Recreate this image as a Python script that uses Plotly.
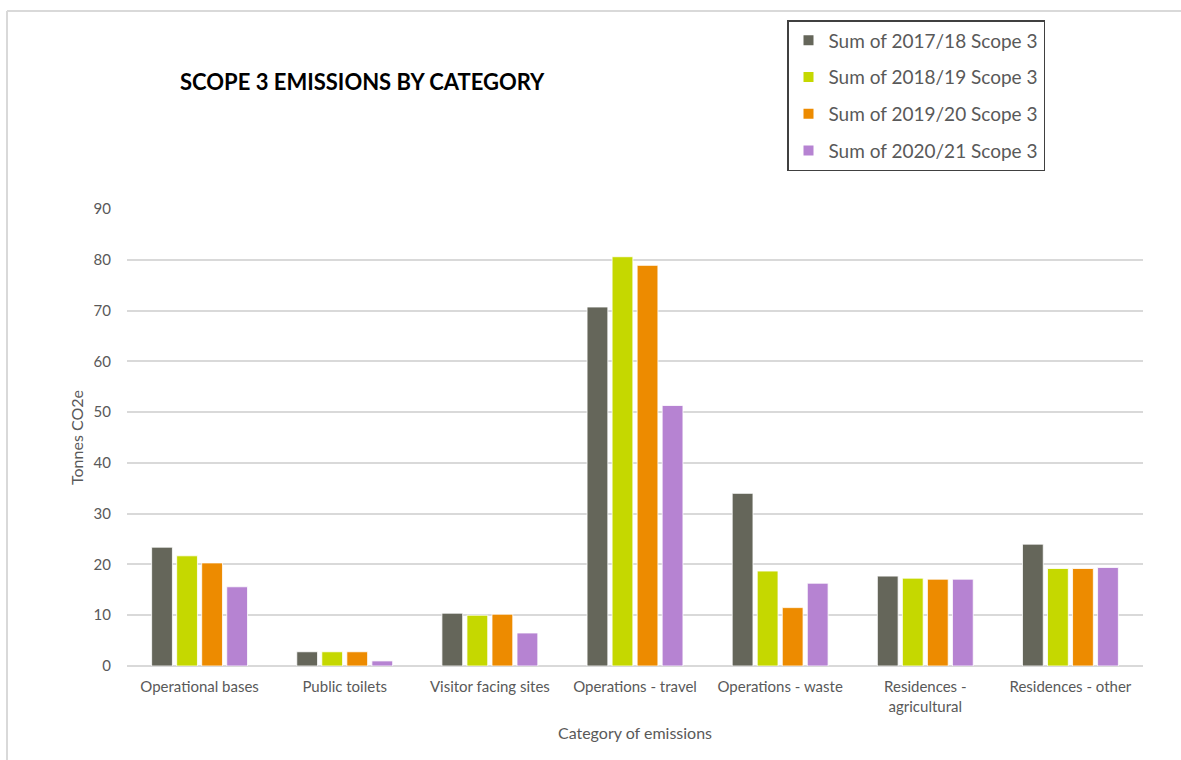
import plotly.graph_objects as go

categories = ["Operational bases", "Public toilets", "Visitor facing sites",
              "Operations - travel", "Operations - waste",
              "Residences -<br>agricultural", "Residences - other"]
series_names = ["Sum of 2017/18 Scope 3", "Sum of 2018/19 Scope 3",
                "Sum of 2019/20 Scope 3", "Sum of 2020/21 Scope 3"]
v_2017_18 = [23.4, 2.8, 10.4, 70.7, 34.0, 17.7, 24.0]
v_2018_19 = [21.7, 2.8, 10.0, 80.6, 18.7, 17.3, 19.2]
v_2019_20 = [20.3, 2.8, 10.2, 78.9, 11.5, 17.1, 19.2]
v_2020_21 = [15.6, 1.0, 6.5, 51.3, 16.3, 17.1, 19.4]
y_ticks = [0, 10, 20, 30, 40, 50, 60, 70, 80, 90]

colors = ["#65665a", "#c5d800", "#ed8b00", "#b683d2"]
values = [v_2017_18, v_2018_19, v_2019_20, v_2020_21]

W, H = 1181, 760
L, R, T, B = 127, 38, 209, 94
pw, ph = W - L - R, H - T - B

def px_x(x):
    return (x - L) / pw

def px_y(y):
    return (H - B - y) / ph

FONT = "Lato, Liberation Sans, sans-serif"
TXT = "#595959"

fig = go.Figure()
for i, (name, vals) in enumerate(zip(series_names, values)):
    fig.add_trace(go.Bar(
        x=categories, y=vals, name=name, legendgroup=name,
        marker=dict(color=colors[i], line=dict(color="white", width=0.8)),
    ))

fig.update_layout(
    width=W, height=H,
    margin=dict(l=L, r=R, t=T, b=B, autoexpand=False),
    paper_bgcolor="white", plot_bgcolor="white",
    font=dict(family=FONT, color=TXT, size=15),
    barmode="group", bargap=0.31, bargroupgap=0.17,
    showlegend=True,
    legend=dict(
        x=px_x(787), y=px_y(20), xanchor="left", yanchor="top",
        xref="paper", yref="paper",
        bordercolor="#404040", borderwidth=1.5, bgcolor="white",
        font=dict(size=19, color=TXT, family=FONT),
        traceorder="grouped", tracegroupgap=9,
        itemsizing="constant",
    ),
    xaxis=dict(
        showgrid=False, showline=False, ticks="",
        tickfont=dict(size=15, color=TXT), ticklabelstandoff=10,
        title=dict(text="Category of emissions", font=dict(size=16, color=TXT), standoff=14),
    ),
    yaxis=dict(
        range=[0, 90], tickvals=y_ticks, showgrid=True, gridcolor="#d9d9d9", gridwidth=1.5,
        zeroline=True, zerolinecolor="#d9d9d9", zerolinewidth=1.5,
        ticks="", tickfont=dict(size=15, color=TXT), ticklabelstandoff=15,
        title=dict(text="Tonnes CO2e", font=dict(size=16, color=TXT), standoff=5),
    ),
    annotations=[dict(
        text="<b>SCOPE 3 EMISSIONS BY CATEGORY</b>", xref="paper", yref="paper",
        x=px_x(178), y=px_y(82), xanchor="left", yanchor="middle",
        showarrow=False, font=dict(size=22, color="black", family=FONT),
    )],
    shapes=[
        dict(type="line", xref="paper", yref="paper", x0=px_x(7), x1=px_x(1181),
             y0=px_y(11), y1=px_y(11), line=dict(color="#d9d9d9", width=2)),
        dict(type="line", xref="paper", yref="paper", x0=px_x(7), x1=px_x(7),
             y0=px_y(11), y1=px_y(760), line=dict(color="#d9d9d9", width=2)),
    ],
)

fig.write_html("out.html")
